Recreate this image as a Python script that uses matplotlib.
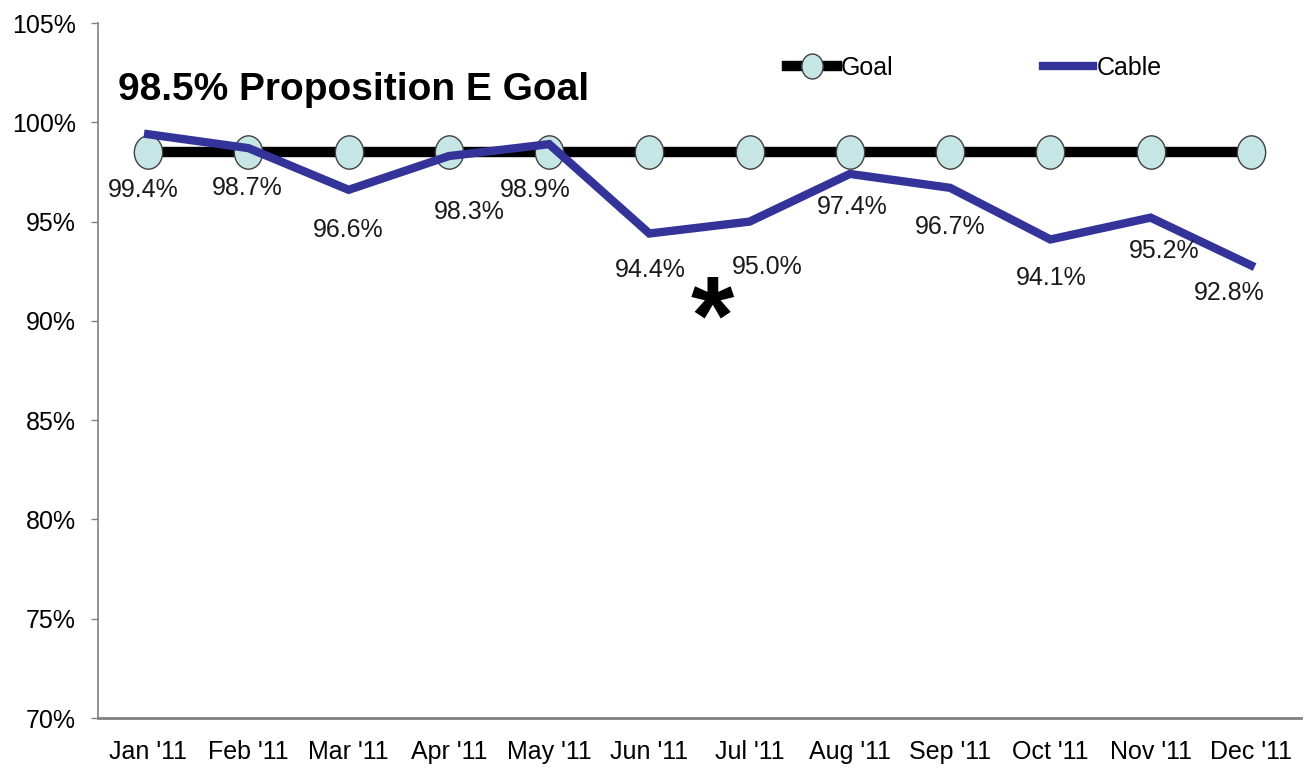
import matplotlib
matplotlib.use("Agg")
import matplotlib.pyplot as plt
from matplotlib.path import Path
import matplotlib.transforms as mtransforms

plt.rcParams['font.family'] = ['Liberation Sans', 'DejaVu Sans']

months = ["Jan '11", "Feb '11", "Mar '11", "Apr '11", "May '11", "Jun '11",
          "Jul '11", "Aug '11", "Sep '11", "Oct '11", "Nov '11", "Dec '11"]
goal = [98.5] * 12
cable = [99.4, 98.7, 96.6, 98.3, 98.9, 94.4, 95.0, 97.4, 96.7, 94.1, 95.2, 92.8]
yticks = [70, 75, 80, 85, 90, 95, 100, 105]

# label offsets (pixels) from each cable point
label_off = [(-5, -56), (-1, -40), (0, -40), (20, -56), (-14, -46), (1, -36),
             (18, -45), (2, -33), (0, -39), (1, -39), (14, -33), (-22, -28)]

fig = plt.figure(figsize=(13.12, 7.75), dpi=100)
ax = fig.add_axes([0.0747, 0.0735, 0.9169, 0.8968])

x = list(range(len(months)))
ell = Path.unit_circle().transformed(mtransforms.Affine2D().scale(0.85, 1.0))

ax.plot(x, goal, color='black', lw=7.5, marker=ell, markersize=24,
        markerfacecolor='#c6e5e5', markeredgecolor='#404040',
        markeredgewidth=1.0, label='Goal', zorder=2)
ax.plot(x, cable, color='#333399', lw=6, solid_joinstyle='miter',
        label='Cable', zorder=3)

for i, v in enumerate(cable):
    ax.annotate('%.1f%%' % v, (i, v), xytext=label_off[i],
                textcoords='offset pixels', ha='center', va='center',
                fontsize=18, color='#1a1a1a', zorder=4)

ax.text(5.63, 89.8, '*', fontsize=80, fontweight='bold', ha='center',
        va='center')

ax.set_xlim(-0.5, 11.5)
ax.set_ylim(70, 105)
ax.set_xticks(x)
ax.set_xticklabels(months, fontsize=18)
ax.set_yticks(yticks)
ax.set_yticklabels(['%d%%' % t for t in yticks], fontsize=18)
ax.tick_params(axis='x', length=0, pad=16)
ax.tick_params(axis='y', length=5, width=1, color='#808080', pad=11)

for s in ['top', 'right']:
    ax.spines[s].set_visible(False)
for s in ['left', 'bottom']:
    ax.spines[s].set_color('#808080')
ax.spines['left'].set_linewidth(1.2)
ax.spines['bottom'].set_linewidth(2)

fig.text(118 / 1312, 1 - 100 / 775, '98.5% Proposition E Goal',
         fontsize=28, fontweight='bold', va='baseline', ha='left')

ax.legend(loc='center left', bbox_to_anchor=(787 / 1312, 1 - 68 / 775),
          bbox_transform=fig.transFigure, ncol=2, frameon=False,
          fontsize=18, handlelength=2.0, handletextpad=0.15,
          columnspacing=6.0, markerscale=0.75, borderaxespad=0, borderpad=0)

fig.savefig('out.png', dpi=100)
